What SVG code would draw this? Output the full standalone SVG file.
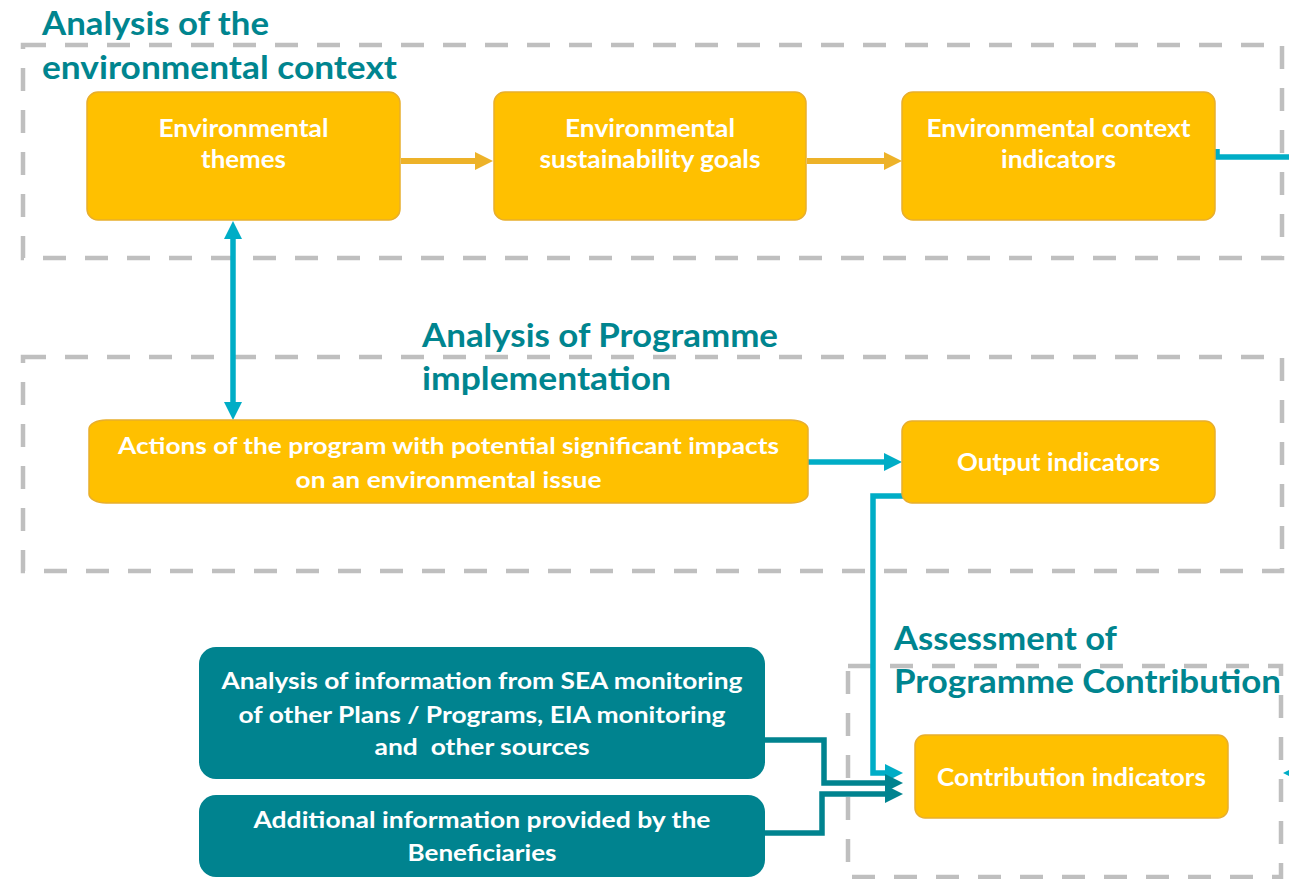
<svg xmlns="http://www.w3.org/2000/svg" width="1289" height="879" viewBox="0 0 1289 879">
  <style>
    .frame { fill: none; stroke: #BFBFBF; stroke-width: 4.5; stroke-dasharray: 23 19; }
    .title { font-family: Lato, "Open Sans", sans-serif; font-weight: bold; font-size: 33px; fill: #00858F; }
    .gold { fill: #FFC000; stroke: #E8AE2C; stroke-width: 1.5; }
    .teal { fill: #00838F; }
    .lbl { font-family: Lato, "Open Sans", sans-serif; font-weight: bold; font-size: 25px; fill: #FFFFFF; text-anchor: middle; }
    .sm { font-size: 23.5px; }
    .c-gold { fill: none; stroke: #EDB229; stroke-width: 6; }
    .c-teal { fill: none; stroke: #00ADC6; stroke-width: 5.5; }
    .c-dark { fill: none; stroke: #00838F; stroke-width: 5.5; }
  </style>
  <defs>
    <marker id="ah-gold" viewBox="0 0 18 18" refX="2" refY="9" markerWidth="18" markerHeight="18" markerUnits="userSpaceOnUse" orient="auto-start-reverse">
      <path d="M0,0 L18,9 L0,18 Z" fill="#EDB229"/>
    </marker>
    <marker id="ah-teal" viewBox="0 0 18 18" refX="2" refY="9" markerWidth="18" markerHeight="18" markerUnits="userSpaceOnUse" orient="auto-start-reverse">
      <path d="M0,0 L18,9 L0,18 Z" fill="#00ADC6"/>
    </marker>
    <marker id="ah-dark" viewBox="0 0 18 18" refX="2" refY="9" markerWidth="18" markerHeight="18" markerUnits="userSpaceOnUse" orient="auto-start-reverse">
      <path d="M0,0 L18,9 L0,18 Z" fill="#00838F"/>
    </marker>
  </defs>

  <!-- dashed section frames -->
  <g id="frames">
    <rect class="frame" x="23" y="45" width="1259" height="213"/>
    <rect class="frame" x="23" y="357" width="1259" height="214"/>
    <rect class="frame" x="848" y="666" width="433" height="211"/>
  </g>

  <!-- section titles -->
  <g id="titles">
    <text class="title" x="42" y="35" textLength="227" lengthAdjust="spacingAndGlyphs">Analysis of the</text>
    <text class="title" x="42" y="79" textLength="355" lengthAdjust="spacingAndGlyphs">environmental context</text>
    <text class="title" x="422" y="347" textLength="356" lengthAdjust="spacingAndGlyphs">Analysis of Programme</text>
    <text class="title" x="422" y="390" textLength="249" lengthAdjust="spacingAndGlyphs">implementation</text>
    <text class="title" x="894" y="650" textLength="223" lengthAdjust="spacingAndGlyphs">Assessment of</text>
    <text class="title" x="894" y="693" textLength="387" lengthAdjust="spacingAndGlyphs">Programme Contribution</text>
  </g>

  <!-- connectors -->
  <g id="connectors">
    <path class="c-gold" d="M401,161 H477" marker-end="url(#ah-gold)"/>
    <path class="c-gold" d="M807,161 H886" marker-end="url(#ah-gold)"/>
    <path class="c-teal" d="M1217,149 V157 H1289"/>
    <path class="c-teal" d="M233,237 V404" marker-start="url(#ah-teal)" marker-end="url(#ah-teal)"/>
    <path class="c-teal" d="M808,462 H886" marker-end="url(#ah-teal)"/>
    <path class="c-teal" d="M903,496 H873 V773 H887" marker-end="url(#ah-teal)"/>
    <path class="c-dark" d="M765,740 H824 V783 H887" marker-end="url(#ah-dark)"/>
    <path class="c-dark" d="M765,833 H822 V794 H887" marker-end="url(#ah-dark)"/>
    <path d="M1283,773 L1301,764 L1301,782 Z" fill="#00ADC6"/>
  </g>

  <!-- nodes -->
  <g id="env-themes">
    <rect class="gold" x="87" y="92" width="313" height="128" rx="11"/>
    <text class="lbl" x="243.5" y="137" textLength="170" lengthAdjust="spacingAndGlyphs">Environmental</text>
    <text class="lbl" x="243.5" y="168" textLength="85" lengthAdjust="spacingAndGlyphs">themes</text>
  </g>
  <g id="sustainability-goals">
    <rect class="gold" x="494" y="92" width="312" height="128" rx="11"/>
    <text class="lbl" x="650" y="137" textLength="170" lengthAdjust="spacingAndGlyphs">Environmental</text>
    <text class="lbl" x="650" y="168" textLength="221" lengthAdjust="spacingAndGlyphs">sustainability goals</text>
  </g>
  <g id="context-indicators">
    <rect class="gold" x="902" y="92" width="313" height="128" rx="11"/>
    <text class="lbl" x="1058.5" y="137" textLength="264" lengthAdjust="spacingAndGlyphs">Environmental context</text>
    <text class="lbl" x="1058.5" y="168" textLength="115" lengthAdjust="spacingAndGlyphs">indicators</text>
  </g>
  <g id="programme-actions">
    <rect class="gold" x="89" y="420" width="719" height="83" rx="17" ry="9"/>
    <text class="lbl sm" x="448.5" y="454" textLength="661" lengthAdjust="spacingAndGlyphs">Actions of the program with potential significant impacts</text>
    <text class="lbl sm" x="448.5" y="488" textLength="306" lengthAdjust="spacingAndGlyphs">on an environmental issue</text>
  </g>
  <g id="output-indicators">
    <rect class="gold" x="902" y="421" width="313" height="82" rx="10"/>
    <text class="lbl" x="1058.5" y="471" textLength="203" lengthAdjust="spacingAndGlyphs">Output indicators</text>
  </g>
  <g id="contribution-indicators">
    <rect class="gold" x="915" y="735" width="313" height="83" rx="10"/>
    <text class="lbl" x="1071.5" y="786" textLength="269" lengthAdjust="spacingAndGlyphs">Contribution indicators</text>
  </g>
  <g id="other-sources">
    <rect class="teal" x="199" y="647" width="566" height="132" rx="17"/>
    <text class="lbl sm" x="482" y="689" textLength="521" lengthAdjust="spacingAndGlyphs">Analysis of information from SEA monitoring</text>
    <text class="lbl sm" x="482" y="723" textLength="487" lengthAdjust="spacingAndGlyphs">of other Plans / Programs, EIA monitoring</text>
    <text class="lbl sm" x="482" y="755" textLength="215" lengthAdjust="spacingAndGlyphs" xml:space="preserve">and  other sources</text>
  </g>
  <g id="beneficiaries-info">
    <rect class="teal" x="199" y="795" width="566" height="82" rx="17"/>
    <text class="lbl sm" x="482" y="828" textLength="457" lengthAdjust="spacingAndGlyphs">Additional information provided by the</text>
    <text class="lbl sm" x="482" y="861" textLength="149" lengthAdjust="spacingAndGlyphs">Beneficiaries</text>
  </g>
</svg>
